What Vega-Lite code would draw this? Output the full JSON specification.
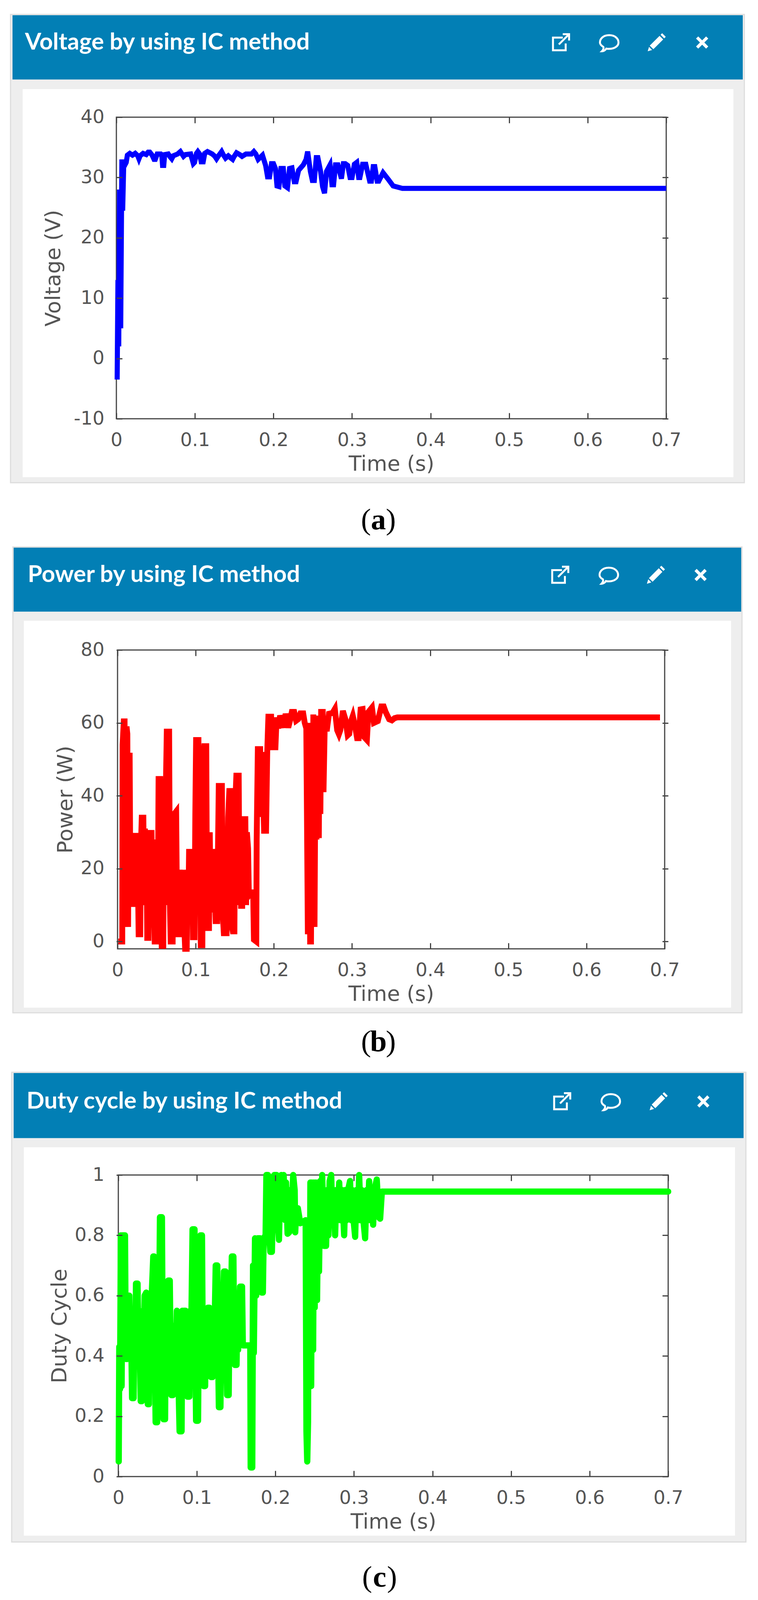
{"$schema":"https://vega.github.io/schema/vega-lite/v6.json","background":"white","padding":{"left":25,"top":35,"right":0,"bottom":0},"spacing":0,
"config":{"view":{"stroke":null},"axis":{"grid":false,"domain":false,"tickSize":-15,"tickWidth":3,"tickColor":"#444444","labelFont":"DejaVu Sans","labelFontSize":48,"labelColor":"#555555","labelPadding":46,"labelOverlap":false,"labelBound":false,"labelFlush":false,"labelExpr":"''+datum.value","titleFont":"DejaVu Sans","titleFontSize":54,"titleFontWeight":"normal","titleColor":"#555555"}},
"datasets":{"one":[{}],
"voltage":[{"t":0.001,"v":-3.5},{"t":0.002,"v":13},{"t":0.003,"v":2},{"t":0.004,"v":28},{"t":0.0055,"v":5},{"t":0.007,"v":33},{"t":0.008,"v":24.5},{"t":0.0095,"v":33},{"t":0.0105,"v":32},{"t":0.0125,"v":32.5},{"t":0.014,"v":33.7},{"t":0.017,"v":34},{"t":0.0205,"v":33.7},{"t":0.024,"v":34},{"t":0.0272,"v":33.6},{"t":0.0287,"v":33.1},{"t":0.0302,"v":33.6},{"t":0.034,"v":34},{"t":0.038,"v":33.8},{"t":0.0405,"v":34.2},{"t":0.0425,"v":34.2},{"t":0.0455,"v":33.7},{"t":0.048,"v":33},{"t":0.0495,"v":33},{"t":0.052,"v":33.9},{"t":0.0565,"v":33.9},{"t":0.0578,"v":33.7},{"t":0.0588,"v":32},{"t":0.0603,"v":32},{"t":0.0615,"v":33.8},{"t":0.066,"v":33.9},{"t":0.068,"v":33.5},{"t":0.0705,"v":33.1},{"t":0.0725,"v":33.6},{"t":0.078,"v":33.9},{"t":0.0815,"v":34.3},{"t":0.0835,"v":33.9},{"t":0.0855,"v":33.5},{"t":0.088,"v":33.8},{"t":0.0945,"v":33.9},{"t":0.0965,"v":33},{"t":0.098,"v":32.3},{"t":0.0995,"v":32.5},{"t":0.102,"v":34},{"t":0.1037,"v":34.3},{"t":0.106,"v":33.9},{"t":0.108,"v":32.6},{"t":0.1105,"v":32.6},{"t":0.1125,"v":34},{"t":0.116,"v":34.3},{"t":0.122,"v":33.9},{"t":0.1255,"v":33.5},{"t":0.1275,"v":33.1},{"t":0.1295,"v":33.5},{"t":0.134,"v":34.3},{"t":0.136,"v":33.8},{"t":0.139,"v":33.2},{"t":0.1425,"v":33.6},{"t":0.146,"v":33.2},{"t":0.148,"v":33},{"t":0.15,"v":33.5},{"t":0.153,"v":34.1},{"t":0.157,"v":33.8},{"t":0.16,"v":33.5},{"t":0.165,"v":33.9},{"t":0.172,"v":33.9},{"t":0.175,"v":34.3},{"t":0.1775,"v":33.9},{"t":0.1805,"v":33},{"t":0.186,"v":33.7},{"t":0.19,"v":32},{"t":0.1925,"v":30.1},{"t":0.195,"v":30.1},{"t":0.1975,"v":32.3},{"t":0.2,"v":32.3},{"t":0.2025,"v":31.5},{"t":0.2045,"v":28.6},{"t":0.207,"v":28.5},{"t":0.2095,"v":31.5},{"t":0.2125,"v":31.5},{"t":0.2145,"v":28.6},{"t":0.2178,"v":28.3},{"t":0.2205,"v":31.5},{"t":0.2235,"v":31.6},{"t":0.2265,"v":29.3},{"t":0.2287,"v":29.3},{"t":0.232,"v":31.2},{"t":0.238,"v":32.1},{"t":0.2415,"v":33},{"t":0.2435,"v":34.3},{"t":0.247,"v":31},{"t":0.2495,"v":29.5},{"t":0.252,"v":29.5},{"t":0.2545,"v":33.3},{"t":0.2565,"v":33.3},{"t":0.26,"v":31},{"t":0.2625,"v":28.5},{"t":0.265,"v":27.4},{"t":0.2675,"v":31},{"t":0.272,"v":32.1},{"t":0.2745,"v":28.8},{"t":0.2765,"v":28.8},{"t":0.279,"v":32.1},{"t":0.282,"v":32.1},{"t":0.2865,"v":29.8},{"t":0.289,"v":32.3},{"t":0.2914,"v":32.3},{"t":0.2945,"v":32},{"t":0.2975,"v":30},{"t":0.3,"v":30},{"t":0.303,"v":32.2},{"t":0.306,"v":32.5},{"t":0.3085,"v":30},{"t":0.31,"v":30},{"t":0.3135,"v":32.2},{"t":0.3175,"v":32.2},{"t":0.3225,"v":29.4},{"t":0.3246,"v":29.4},{"t":0.327,"v":31.8},{"t":0.329,"v":31.8},{"t":0.332,"v":29.4},{"t":0.334,"v":29.4},{"t":0.3395,"v":30.8},{"t":0.3467,"v":29.6},{"t":0.3524,"v":28.6},{"t":0.358,"v":28.4},{"t":0.364,"v":28.2},{"t":0.7,"v":28.2}],
"power":[{"t":0.001,"v":0},{"t":0.006,"v":0},{"t":0.0065,"v":54},{"t":0.008,"v":60.4},{"t":0.009,"v":60.4},{"t":0.0095,"v":9},{"t":0.0105,"v":4},{"t":0.0115,"v":59},{"t":0.0125,"v":57},{"t":0.0135,"v":4},{"t":0.0145,"v":51},{"t":0.0155,"v":51},{"t":0.0165,"v":10},{"t":0.0175,"v":25},{"t":0.0185,"v":9.5},{"t":0.0195,"v":26},{"t":0.0205,"v":9.5},{"t":0.0215,"v":29},{"t":0.0235,"v":29},{"t":0.0245,"v":10},{"t":0.0255,"v":26},{"t":0.027,"v":2},{"t":0.029,"v":2},{"t":0.03,"v":27},{"t":0.031,"v":34},{"t":0.033,"v":34},{"t":0.034,"v":10},{"t":0.035,"v":31},{"t":0.036,"v":10},{"t":0.037,"v":28},{"t":0.038,"v":1},{"t":0.0395,"v":1},{"t":0.0405,"v":28},{"t":0.0415,"v":29.8},{"t":0.0435,"v":29.8},{"t":0.0445,"v":10},{"t":0.0455,"v":28},{"t":0.0465,"v":10},{"t":0.0475,"v":0},{"t":0.0495,"v":0},{"t":0.0505,"v":28},{"t":0.0515,"v":10},{"t":0.0525,"v":44.6},{"t":0.0545,"v":44.6},{"t":0.0555,"v":10},{"t":0.0565,"v":-1.2},{"t":0.0585,"v":-1.2},{"t":0.0595,"v":42},{"t":0.0605,"v":10},{"t":0.0615,"v":38},{"t":0.063,"v":57.6},{"t":0.066,"v":57.6},{"t":0.067,"v":10},{"t":0.068,"v":0},{"t":0.0705,"v":0},{"t":0.0715,"v":24},{"t":0.0725,"v":35},{"t":0.075,"v":35.7},{"t":0.076,"v":10},{"t":0.077,"v":2},{"t":0.0785,"v":2},{"t":0.0795,"v":19.7},{"t":0.081,"v":10},{"t":0.082,"v":19},{"t":0.083,"v":8},{"t":0.084,"v":19.7},{"t":0.085,"v":6},{"t":0.0865,"v":-2},{"t":0.0885,"v":-2},{"t":0.0895,"v":18},{"t":0.0905,"v":8},{"t":0.0915,"v":24.6},{"t":0.0935,"v":24.6},{"t":0.0945,"v":8},{"t":0.0955,"v":24},{"t":0.0965,"v":1.2},{"t":0.0985,"v":1.2},{"t":0.0995,"v":35},{"t":0.1005,"v":55.3},{"t":0.1035,"v":55.3},{"t":0.1045,"v":10},{"t":0.1055,"v":26},{"t":0.1065,"v":-1},{"t":0.1085,"v":-1},{"t":0.1095,"v":50},{"t":0.111,"v":53.6},{"t":0.1135,"v":53.6},{"t":0.1145,"v":8},{"t":0.1155,"v":3.7},{"t":0.117,"v":3.7},{"t":0.118,"v":30},{"t":0.119,"v":8},{"t":0.1205,"v":24.6},{"t":0.122,"v":24.6},{"t":0.123,"v":8},{"t":0.1245,"v":12},{"t":0.1255,"v":5.6},{"t":0.1275,"v":5.6},{"t":0.1285,"v":25},{"t":0.1295,"v":42.7},{"t":0.1335,"v":42.7},{"t":0.1345,"v":8},{"t":0.136,"v":2.3},{"t":0.1395,"v":2.3},{"t":0.1405,"v":20},{"t":0.1415,"v":34},{"t":0.143,"v":41.3},{"t":0.1455,"v":41.3},{"t":0.1465,"v":4},{"t":0.1475,"v":2.8},{"t":0.1495,"v":2.8},{"t":0.1505,"v":37},{"t":0.152,"v":45.5},{"t":0.155,"v":45.5},{"t":0.156,"v":10},{"t":0.157,"v":28},{"t":0.158,"v":9.8},{"t":0.1595,"v":9.8},{"t":0.1605,"v":33.6},{"t":0.1635,"v":33.6},{"t":0.1645,"v":10},{"t":0.1655,"v":30},{"t":0.167,"v":25.5},{"t":0.168,"v":12.7},{"t":0.1705,"v":13.5},{"t":0.1735,"v":13.5},{"t":0.1745,"v":0.5},{"t":0.1775,"v":0},{"t":0.178,"v":28},{"t":0.1795,"v":52.8},{"t":0.1825,"v":52.8},{"t":0.183,"v":34.2},{"t":0.185,"v":52},{"t":0.1875,"v":30.4},{"t":0.19,"v":30.4},{"t":0.1915,"v":52},{"t":0.193,"v":61.7},{"t":0.1965,"v":61.7},{"t":0.198,"v":53.3},{"t":0.202,"v":53.3},{"t":0.2035,"v":61.5},{"t":0.2055,"v":58.5},{"t":0.208,"v":62},{"t":0.2125,"v":58.7},{"t":0.215,"v":62.5},{"t":0.2184,"v":58.7},{"t":0.2205,"v":60.5},{"t":0.223,"v":63},{"t":0.226,"v":63},{"t":0.2285,"v":60.6},{"t":0.2311,"v":61},{"t":0.234,"v":62.6},{"t":0.2375,"v":62.6},{"t":0.2395,"v":60},{"t":0.2415,"v":58.5},{"t":0.2435,"v":2},{"t":0.245,"v":60},{"t":0.2464,"v":0},{"t":0.2475,"v":0},{"t":0.249,"v":58},{"t":0.2495,"v":5},{"t":0.2505,"v":62.3},{"t":0.252,"v":4},{"t":0.2535,"v":62},{"t":0.2545,"v":28},{"t":0.2565,"v":62},{"t":0.2575,"v":28.4},{"t":0.2585,"v":62},{"t":0.2595,"v":35},{"t":0.2605,"v":63},{"t":0.2625,"v":63},{"t":0.2635,"v":41},{"t":0.265,"v":58.4},{"t":0.268,"v":58.4},{"t":0.2705,"v":62.5},{"t":0.275,"v":62.7},{"t":0.278,"v":63.8},{"t":0.281,"v":58},{"t":0.2832,"v":56.9},{"t":0.285,"v":58},{"t":0.2883,"v":63.3},{"t":0.2915,"v":61},{"t":0.2945,"v":56.6},{"t":0.2965,"v":57},{"t":0.298,"v":60},{"t":0.301,"v":61.9},{"t":0.304,"v":59},{"t":0.3065,"v":55.8},{"t":0.3085,"v":55.8},{"t":0.311,"v":63.7},{"t":0.3135,"v":63.8},{"t":0.316,"v":56},{"t":0.319,"v":55.3},{"t":0.321,"v":63},{"t":0.3255,"v":64.2},{"t":0.328,"v":60},{"t":0.333,"v":60.5},{"t":0.3375,"v":64.5},{"t":0.3405,"v":64.5},{"t":0.343,"v":63},{"t":0.3475,"v":61},{"t":0.351,"v":60.7},{"t":0.3545,"v":61.3},{"t":0.358,"v":61.5},{"t":0.694,"v":61.5}],
"duty":[{"t":0.0005,"v":0.05},{"t":0.0012,"v":0.43},{"t":0.0022,"v":0.29},{"t":0.0032,"v":0.8},{"t":0.0042,"v":0.3},{"t":0.0052,"v":0.8},{"t":0.0085,"v":0.8},{"t":0.0095,"v":0.39},{"t":0.0105,"v":0.55},{"t":0.0115,"v":0.39},{"t":0.0125,"v":0.58},{"t":0.014,"v":0.6},{"t":0.015,"v":0.42},{"t":0.016,"v":0.55},{"t":0.0175,"v":0.26},{"t":0.0195,"v":0.26},{"t":0.0205,"v":0.55},{"t":0.0215,"v":0.42},{"t":0.0225,"v":0.64},{"t":0.0245,"v":0.64},{"t":0.0255,"v":0.42},{"t":0.0265,"v":0.55},{"t":0.0285,"v":0.25},{"t":0.03,"v":0.25},{"t":0.031,"v":0.55},{"t":0.032,"v":0.42},{"t":0.0335,"v":0.6},{"t":0.0355,"v":0.61},{"t":0.0365,"v":0.42},{"t":0.0375,"v":0.24},{"t":0.039,"v":0.24},{"t":0.04,"v":0.55},{"t":0.041,"v":0.42},{"t":0.0425,"v":0.6},{"t":0.0445,"v":0.73},{"t":0.0455,"v":0.73},{"t":0.0465,"v":0.42},{"t":0.0475,"v":0.18},{"t":0.0495,"v":0.18},{"t":0.0505,"v":0.55},{"t":0.0515,"v":0.42},{"t":0.053,"v":0.86},{"t":0.0555,"v":0.86},{"t":0.0565,"v":0.42},{"t":0.0575,"v":0.19},{"t":0.0595,"v":0.19},{"t":0.0605,"v":0.55},{"t":0.0615,"v":0.42},{"t":0.0635,"v":0.65},{"t":0.0655,"v":0.65},{"t":0.0665,"v":0.42},{"t":0.0675,"v":0.27},{"t":0.0695,"v":0.27},{"t":0.0705,"v":0.5},{"t":0.0725,"v":0.5},{"t":0.0735,"v":0.42},{"t":0.0745,"v":0.55},{"t":0.078,"v":0.15},{"t":0.0805,"v":0.15},{"t":0.0815,"v":0.55},{"t":0.0825,"v":0.42},{"t":0.0835,"v":0.55},{"t":0.0855,"v":0.55},{"t":0.0865,"v":0.42},{"t":0.088,"v":0.265},{"t":0.0905,"v":0.265},{"t":0.0915,"v":0.55},{"t":0.0925,"v":0.42},{"t":0.0945,"v":0.82},{"t":0.097,"v":0.82},{"t":0.098,"v":0.42},{"t":0.099,"v":0.185},{"t":0.1015,"v":0.185},{"t":0.1025,"v":0.55},{"t":0.1035,"v":0.42},{"t":0.1045,"v":0.8},{"t":0.1065,"v":0.8},{"t":0.1075,"v":0.42},{"t":0.1085,"v":0.3},{"t":0.1105,"v":0.3},{"t":0.1115,"v":0.55},{"t":0.1125,"v":0.42},{"t":0.114,"v":0.56},{"t":0.116,"v":0.56},{"t":0.117,"v":0.42},{"t":0.118,"v":0.33},{"t":0.12,"v":0.33},{"t":0.121,"v":0.55},{"t":0.122,"v":0.42},{"t":0.124,"v":0.7},{"t":0.126,"v":0.7},{"t":0.127,"v":0.42},{"t":0.128,"v":0.23},{"t":0.13,"v":0.23},{"t":0.131,"v":0.55},{"t":0.132,"v":0.42},{"t":0.1345,"v":0.68},{"t":0.1365,"v":0.68},{"t":0.1375,"v":0.42},{"t":0.1385,"v":0.27},{"t":0.1405,"v":0.27},{"t":0.1415,"v":0.55},{"t":0.1425,"v":0.42},{"t":0.1445,"v":0.73},{"t":0.1465,"v":0.73},{"t":0.1475,"v":0.42},{"t":0.1485,"v":0.37},{"t":0.1505,"v":0.37},{"t":0.1515,"v":0.55},{"t":0.1525,"v":0.42},{"t":0.155,"v":0.63},{"t":0.1575,"v":0.63},{"t":0.1585,"v":0.435},{"t":0.168,"v":0.435},{"t":0.1685,"v":0.03},{"t":0.1705,"v":0.03},{"t":0.1715,"v":0.7},{"t":0.1725,"v":0.41},{"t":0.174,"v":0.79},{"t":0.1755,"v":0.6},{"t":0.1775,"v":0.79},{"t":0.1805,"v":0.79},{"t":0.1825,"v":0.61},{"t":0.184,"v":0.61},{"t":0.185,"v":0.79},{"t":0.1875,"v":0.8},{"t":0.1885,"v":1},{"t":0.1905,"v":1},{"t":0.192,"v":0.8},{"t":0.1935,"v":0.745},{"t":0.1955,"v":0.745},{"t":0.197,"v":0.95},{"t":0.1985,"v":1},{"t":0.2015,"v":1},{"t":0.203,"v":0.85},{"t":0.2045,"v":0.785},{"t":0.206,"v":0.95},{"t":0.2075,"v":1},{"t":0.2095,"v":0.95},{"t":0.2105,"v":1},{"t":0.2125,"v":0.85},{"t":0.2135,"v":0.975},{"t":0.2155,"v":0.805},{"t":0.2175,"v":0.81},{"t":0.219,"v":0.95},{"t":0.2205,"v":0.85},{"t":0.2226,"v":1},{"t":0.2245,"v":0.95},{"t":0.2252,"v":0.81},{"t":0.2265,"v":0.89},{"t":0.2285,"v":0.89},{"t":0.2316,"v":0.84},{"t":0.2385,"v":0.85},{"t":0.2395,"v":0.15},{"t":0.2405,"v":0.05},{"t":0.2415,"v":0.18},{"t":0.2425,"v":0.85},{"t":0.2435,"v":0.3},{"t":0.2445,"v":0.975},{"t":0.2455,"v":0.3},{"t":0.2465,"v":0.975},{"t":0.248,"v":0.42},{"t":0.249,"v":0.975},{"t":0.25,"v":0.56},{"t":0.2515,"v":0.975},{"t":0.253,"v":0.585},{"t":0.2545,"v":0.975},{"t":0.2555,"v":0.68},{"t":0.257,"v":0.98},{"t":0.2585,"v":0.765},{"t":0.2595,"v":1},{"t":0.262,"v":0.765},{"t":0.2645,"v":0.765},{"t":0.266,"v":0.95},{"t":0.2675,"v":0.8},{"t":0.269,"v":0.98},{"t":0.271,"v":1},{"t":0.2725,"v":0.85},{"t":0.274,"v":0.95},{"t":0.276,"v":0.8},{"t":0.2775,"v":0.95},{"t":0.279,"v":0.85},{"t":0.2812,"v":0.975},{"t":0.283,"v":0.85},{"t":0.285,"v":0.95},{"t":0.2875,"v":0.8},{"t":0.289,"v":0.95},{"t":0.2905,"v":0.85},{"t":0.2925,"v":0.95},{"t":0.295,"v":0.98},{"t":0.2965,"v":0.85},{"t":0.298,"v":0.95},{"t":0.2995,"v":0.85},{"t":0.3015,"v":0.795},{"t":0.303,"v":0.95},{"t":0.305,"v":0.85},{"t":0.3066,"v":1},{"t":0.3085,"v":0.85},{"t":0.31,"v":0.95},{"t":0.312,"v":0.85},{"t":0.3142,"v":0.79},{"t":0.316,"v":0.95},{"t":0.3175,"v":0.85},{"t":0.3193,"v":0.98},{"t":0.321,"v":0.85},{"t":0.3225,"v":0.95},{"t":0.3244,"v":0.835},{"t":0.326,"v":0.95},{"t":0.329,"v":0.985},{"t":0.3315,"v":0.86},{"t":0.3333,"v":0.855},{"t":0.3355,"v":0.945},{"t":0.3384,"v":0.945},{"t":0.7,"v":0.945}]},
"vconcat":[
{"width":1413,"height":772,"layer":[
{"data":{"name":"one"},"mark":{"type":"rect","fill":"white"},"encoding":{"x":{"datum":-0.13473,"type":"quantitative","axis":null},"x2":{"datum":0.79943},"y":{"datum":57.03,"type":"quantitative","axis":null},"y2":{"datum":-31.08}}},
{"data":{"name":"one"},"mark":{"type":"rect","fill":"#eeeeee","stroke":"#dddddd","strokeWidth":3},"encoding":{"x":{"datum":-0.13473,"type":"quantitative","axis":null},"x2":{"datum":0.79943},"y":{"datum":57.03,"type":"quantitative","axis":null},"y2":{"datum":-20.6}}},
{"data":{"name":"one"},"mark":{"type":"rect","fill":"#027fb5"},"encoding":{"x":{"datum":-0.13224,"type":"quantitative","axis":null},"x2":{"datum":0.79744},"y":{"datum":56.91,"type":"quantitative","axis":null},"y2":{"datum":46.25}}},
{"data":{"name":"one"},"mark":{"type":"rect","fill":"white"},"encoding":{"x":{"datum":-0.11932,"type":"quantitative","axis":null},"x2":{"datum":0.78551},"y":{"datum":44.66,"type":"quantitative","axis":null},"y2":{"datum":-19.68}}},
{"data":{"name":"one"},"mark":{"type":"text","text":"Voltage by using IC method","align":"left","baseline":"middle","font":"Lato","fontWeight":"bold","fontSize":60,"color":"white"},"encoding":{"x":{"datum":-0.11634,"type":"quantitative","axis":null},"y":{"datum":52.38,"type":"quantitative","axis":null}}},
{"data":{"name":"one"},"mark":{"type":"point","shape":"M0.2,-0.5 H-0.8 V0.8 H0.5 V0.1 M-0.2,0.2 L0.85,-0.85 M0.2,-0.85 H0.85 V-0.2","filled":false,"stroke":"white","strokeWidth":5,"size":2500,"opacity":1},"encoding":{"x":{"datum":0.56577,"type":"quantitative","axis":null},"y":{"datum":52.38,"type":"quantitative","axis":null}}},
{"data":{"name":"one"},"mark":{"type":"point","shape":"M0,-0.75 C0.6,-0.75 0.95,-0.4 0.95,0 C0.95,0.4 0.5,0.65 0,0.65 C-0.1,0.65 -0.2,0.65 -0.3,0.62 C-0.4,0.8 -0.6,0.9 -0.75,0.9 C-0.6,0.75 -0.55,0.6 -0.6,0.45 C-0.85,0.3 -0.95,0.15 -0.95,0 C-0.95,-0.4 -0.6,-0.75 0,-0.75 Z","filled":false,"stroke":"white","strokeWidth":5,"size":2500,"opacity":1},"encoding":{"x":{"datum":0.62742,"type":"quantitative","axis":null},"y":{"datum":52.38,"type":"quantitative","axis":null}}},
{"data":{"name":"one"},"mark":{"type":"point","shape":"M0.55,-0.9 L0.9,-0.55 L0.75,-0.4 L0.4,-0.75 Z M0.3,-0.65 L0.65,-0.3 L-0.3,0.65 L-0.65,0.3 Z M-0.72,0.42 L-0.42,0.72 L-0.85,0.85 Z","filled":true,"fill":"white","stroke":null,"size":2800,"opacity":1},"encoding":{"x":{"datum":0.68757,"type":"quantitative","axis":null},"y":{"datum":52.38,"type":"quantitative","axis":null}}},
{"data":{"name":"one"},"mark":{"type":"point","shape":"M-0.7,-0.45 L-0.45,-0.7 L0,-0.25 L0.45,-0.7 L0.7,-0.45 L0.25,0 L0.7,0.45 L0.45,0.7 L0,0.25 L-0.45,0.7 L-0.7,0.45 L-0.25,0 Z","filled":true,"fill":"white","stroke":null,"size":2000,"opacity":1},"encoding":{"x":{"datum":0.74574,"type":"quantitative","axis":null},"y":{"datum":52.38,"type":"quantitative","axis":null}}},
{"data":{"name":"one"},"mark":{"type":"text","text":"(","align":"right","baseline":"middle","font":"Liberation Serif","fontSize":77,"color":"black"},"encoding":{"x":{"datum":0.3241,"type":"quantitative","axis":null},"y":{"datum":-26.85,"type":"quantitative","axis":null}}},
{"data":{"name":"one"},"mark":{"type":"text","text":"a","align":"center","baseline":"middle","font":"Liberation Serif","fontWeight":"bold","fontSize":77,"color":"black"},"encoding":{"x":{"datum":0.33359,"type":"quantitative","axis":null},"y":{"datum":-26.85,"type":"quantitative","axis":null}}},
{"data":{"name":"one"},"mark":{"type":"text","text":")","align":"left","baseline":"middle","font":"Liberation Serif","fontSize":77,"color":"black"},"encoding":{"x":{"datum":0.343,"type":"quantitative","axis":null},"y":{"datum":-26.85,"type":"quantitative","axis":null}}},
{"data":{"name":"one"},"mark":{"type":"rect","fill":null,"stroke":"#444444","strokeWidth":3},"encoding":{"x":{"datum":0,"type":"quantitative","axis":{"orient":"top","zindex":1,"labels":false,"title":null,"values":[0,0.1,0.2,0.3,0.4,0.5,0.6,0.7]}},"x2":{"datum":0.7},"y":{"datum":-10,"type":"quantitative","axis":{"orient":"right","zindex":1,"labels":false,"title":null,"values":[-10,0,10,20,30,40]}},"y2":{"datum":40}}},
{"data":{"name":"voltage"},"mark":{"type":"line","color":"#0000ff","strokeWidth":13,"strokeCap":"butt","interpolate":"linear"},"encoding":{"x":{"field":"t","type":"quantitative","title":"Time (s)","scale":{"domain":[0,0.7],"range":[0,1408],"nice":false},"axis":{"orient":"bottom","zindex":1,"values":[0,0.1,0.2,0.3,0.4,0.5,0.6,0.7],"titlePadding":10}},"y":{"field":"v","type":"quantitative","title":"Voltage (V)","scale":{"domain":[-10,40],"nice":false},"axis":{"orient":"left","zindex":1,"values":[-10,0,10,20,30,40],"titlePadding":24}}}}
]},
{"width":1413,"height":765,"layer":[
{"data":{"name":"one"},"mark":{"type":"rect","fill":"white"},"encoding":{"x":{"datum":-0.1339,"type":"quantitative","axis":null},"x2":{"datum":0.79892},"y":{"datum":108.28,"type":"quantitative","axis":null},"y2":{"datum":-35.65}}},
{"data":{"name":"one"},"mark":{"type":"rect","fill":"#eeeeee","stroke":"#dddddd","strokeWidth":3},"encoding":{"x":{"datum":-0.1339,"type":"quantitative","axis":null},"x2":{"datum":0.79892},"y":{"datum":108.28,"type":"quantitative","axis":null},"y2":{"datum":-19.54}}},
{"data":{"name":"one"},"mark":{"type":"rect","fill":"#027fb5"},"encoding":{"x":{"datum":-0.1329,"type":"quantitative","axis":null},"x2":{"datum":0.79792},"y":{"datum":108.08,"type":"quantitative","axis":null},"y2":{"datum":90.54}}},
{"data":{"name":"one"},"mark":{"type":"rect","fill":"white"},"encoding":{"x":{"datum":-0.11991,"type":"quantitative","axis":null},"x2":{"datum":0.78493},"y":{"datum":88.01,"type":"quantitative","axis":null},"y2":{"datum":-18.12}}},
{"data":{"name":"one"},"mark":{"type":"text","text":"Power by using IC method","align":"left","baseline":"middle","font":"Lato","fontWeight":"bold","fontSize":60,"color":"white"},"encoding":{"x":{"datum":-0.11491,"type":"quantitative","axis":null},"y":{"datum":100.58,"type":"quantitative","axis":null}}},
{"data":{"name":"one"},"mark":{"type":"point","shape":"M0.2,-0.5 H-0.8 V0.8 H0.5 V0.1 M-0.2,0.2 L0.85,-0.85 M0.2,-0.85 H0.85 V-0.2","filled":false,"stroke":"white","strokeWidth":5,"size":2500,"opacity":1},"encoding":{"x":{"datum":0.56609,"type":"quantitative","axis":null},"y":{"datum":100.58,"type":"quantitative","axis":null}}},
{"data":{"name":"one"},"mark":{"type":"point","shape":"M0,-0.75 C0.6,-0.75 0.95,-0.4 0.95,0 C0.95,0.4 0.5,0.65 0,0.65 C-0.1,0.65 -0.2,0.65 -0.3,0.62 C-0.4,0.8 -0.6,0.9 -0.75,0.9 C-0.6,0.75 -0.55,0.6 -0.6,0.45 C-0.85,0.3 -0.95,0.15 -0.95,0 C-0.95,-0.4 -0.6,-0.75 0,-0.75 Z","filled":false,"stroke":"white","strokeWidth":5,"size":2500,"opacity":1},"encoding":{"x":{"datum":0.62855,"type":"quantitative","axis":null},"y":{"datum":100.58,"type":"quantitative","axis":null}}},
{"data":{"name":"one"},"mark":{"type":"point","shape":"M0.55,-0.9 L0.9,-0.55 L0.75,-0.4 L0.4,-0.75 Z M0.3,-0.65 L0.65,-0.3 L-0.3,0.65 L-0.65,0.3 Z M-0.72,0.42 L-0.42,0.72 L-0.85,0.85 Z","filled":true,"fill":"white","stroke":null,"size":2800,"opacity":1},"encoding":{"x":{"datum":0.6885,"type":"quantitative","axis":null},"y":{"datum":100.58,"type":"quantitative","axis":null}}},
{"data":{"name":"one"},"mark":{"type":"point","shape":"M-0.7,-0.45 L-0.45,-0.7 L0,-0.25 L0.45,-0.7 L0.7,-0.45 L0.25,0 L0.7,0.45 L0.45,0.7 L0,0.25 L-0.45,0.7 L-0.7,0.45 L-0.25,0 Z","filled":true,"fill":"white","stroke":null,"size":2000,"opacity":1},"encoding":{"x":{"datum":0.74596,"type":"quantitative","axis":null},"y":{"datum":100.58,"type":"quantitative","axis":null}}},
{"data":{"name":"one"},"mark":{"type":"text","text":"(","align":"right","baseline":"middle","font":"Liberation Serif","fontSize":77,"color":"black"},"encoding":{"x":{"datum":0.3243,"type":"quantitative","axis":null},"y":{"datum":-27.64,"type":"quantitative","axis":null}}},
{"data":{"name":"one"},"mark":{"type":"text","text":"b","align":"center","baseline":"middle","font":"Liberation Serif","fontWeight":"bold","fontSize":77,"color":"black"},"encoding":{"x":{"datum":0.33376,"type":"quantitative","axis":null},"y":{"datum":-27.64,"type":"quantitative","axis":null}}},
{"data":{"name":"one"},"mark":{"type":"text","text":")","align":"left","baseline":"middle","font":"Liberation Serif","fontSize":77,"color":"black"},"encoding":{"x":{"datum":0.3433,"type":"quantitative","axis":null},"y":{"datum":-27.64,"type":"quantitative","axis":null}}},
{"data":{"name":"one"},"mark":{"type":"rect","fill":null,"stroke":"#444444","strokeWidth":3},"encoding":{"x":{"datum":0,"type":"quantitative","axis":{"orient":"top","zindex":1,"labels":false,"title":null,"values":[0,0.1,0.2,0.3,0.4,0.5,0.6,0.7]}},"x2":{"datum":0.7},"y":{"datum":-2,"type":"quantitative","axis":{"orient":"right","zindex":1,"labels":false,"title":null,"values":[0,20,40,60,80]}},"y2":{"datum":80}}},
{"data":{"name":"power"},"mark":{"type":"line","color":"#ff0000","strokeWidth":15,"strokeCap":"butt","interpolate":"linear"},"encoding":{"x":{"field":"t","type":"quantitative","title":"Time (s)","scale":{"domain":[0,0.7],"range":[3,1404],"nice":false},"axis":{"orient":"bottom","zindex":1,"values":[0,0.1,0.2,0.3,0.4,0.5,0.6,0.7],"titlePadding":10}},"y":{"field":"v","type":"quantitative","title":"Power (W)","scale":{"domain":[-2,80],"nice":false},"axis":{"orient":"left","zindex":1,"values":[0,20,40,60,80],"titlePadding":10}}}}
]},
{"width":1413,"height":772,"layer":[
{"data":{"name":"one"},"mark":{"type":"rect","fill":"white"},"encoding":{"x":{"datum":-0.13572,"type":"quantitative","axis":null},"x2":{"datum":0.79894},"y":{"datum":1.34069,"type":"quantitative","axis":null},"y2":{"datum":-0.42034}}},
{"data":{"name":"one"},"mark":{"type":"rect","fill":"#eeeeee","stroke":"#dddddd","strokeWidth":3},"encoding":{"x":{"datum":-0.13572,"type":"quantitative","axis":null},"x2":{"datum":0.79894},"y":{"datum":1.34069,"type":"quantitative","axis":null},"y2":{"datum":-0.21691}}},
{"data":{"name":"one"},"mark":{"type":"rect","fill":"#027fb5"},"encoding":{"x":{"datum":-0.13324,"type":"quantitative","axis":null},"x2":{"datum":0.79596},"y":{"datum":1.33824,"type":"quantitative","axis":null},"y2":{"datum":1.12255}}},
{"data":{"name":"one"},"mark":{"type":"rect","fill":"white"},"encoding":{"x":{"datum":-0.12031,"type":"quantitative","axis":null},"x2":{"datum":0.78502},"y":{"datum":1.09191,"type":"quantitative","axis":null},"y2":{"datum":-0.19608}}},
{"data":{"name":"one"},"mark":{"type":"text","text":"Duty cycle by using IC method","align":"left","baseline":"middle","font":"Lato","fontWeight":"bold","fontSize":60,"color":"white"},"encoding":{"x":{"datum":-0.11683,"type":"quantitative","axis":null},"y":{"datum":1.24387,"type":"quantitative","axis":null}}},
{"data":{"name":"one"},"mark":{"type":"point","shape":"M0.2,-0.5 H-0.8 V0.8 H0.5 V0.1 M-0.2,0.2 L0.85,-0.85 M0.2,-0.85 H0.85 V-0.2","filled":false,"stroke":"white","strokeWidth":5,"size":2500,"opacity":1},"encoding":{"x":{"datum":0.56477,"type":"quantitative","axis":null},"y":{"datum":1.24387,"type":"quantitative","axis":null}}},
{"data":{"name":"one"},"mark":{"type":"point","shape":"M0,-0.75 C0.6,-0.75 0.95,-0.4 0.95,0 C0.95,0.4 0.5,0.65 0,0.65 C-0.1,0.65 -0.2,0.65 -0.3,0.62 C-0.4,0.8 -0.6,0.9 -0.75,0.9 C-0.6,0.75 -0.55,0.6 -0.6,0.45 C-0.85,0.3 -0.95,0.15 -0.95,0 C-0.95,-0.4 -0.6,-0.75 0,-0.75 Z","filled":false,"stroke":"white","strokeWidth":5,"size":2500,"opacity":1},"encoding":{"x":{"datum":0.62692,"type":"quantitative","axis":null},"y":{"datum":1.24387,"type":"quantitative","axis":null}}},
{"data":{"name":"one"},"mark":{"type":"point","shape":"M0.55,-0.9 L0.9,-0.55 L0.75,-0.4 L0.4,-0.75 Z M0.3,-0.65 L0.65,-0.3 L-0.3,0.65 L-0.65,0.3 Z M-0.72,0.42 L-0.42,0.72 L-0.85,0.85 Z","filled":true,"fill":"white","stroke":null,"size":2800,"opacity":1},"encoding":{"x":{"datum":0.68757,"type":"quantitative","axis":null},"y":{"datum":1.24387,"type":"quantitative","axis":null}}},
{"data":{"name":"one"},"mark":{"type":"point","shape":"M-0.7,-0.45 L-0.45,-0.7 L0,-0.25 L0.45,-0.7 L0.7,-0.45 L0.25,0 L0.7,0.45 L0.45,0.7 L0,0.25 L-0.45,0.7 L-0.7,0.45 L-0.25,0 Z","filled":true,"fill":"white","stroke":null,"size":2000,"opacity":1},"encoding":{"x":{"datum":0.74475,"type":"quantitative","axis":null},"y":{"datum":1.24387,"type":"quantitative","axis":null}}},
{"data":{"name":"one"},"mark":{"type":"text","text":"(","align":"right","baseline":"middle","font":"Liberation Serif","fontSize":77,"color":"black"},"encoding":{"x":{"datum":0.3231,"type":"quantitative","axis":null},"y":{"datum":-0.33578,"type":"quantitative","axis":null}}},
{"data":{"name":"one"},"mark":{"type":"text","text":"c","align":"center","baseline":"middle","font":"Liberation Serif","fontWeight":"bold","fontSize":77,"color":"black"},"encoding":{"x":{"datum":0.3326,"type":"quantitative","axis":null},"y":{"datum":-0.33578,"type":"quantitative","axis":null}}},
{"data":{"name":"one"},"mark":{"type":"text","text":")","align":"left","baseline":"middle","font":"Liberation Serif","fontSize":77,"color":"black"},"encoding":{"x":{"datum":0.3421,"type":"quantitative","axis":null},"y":{"datum":-0.33578,"type":"quantitative","axis":null}}},
{"data":{"name":"one"},"mark":{"type":"rect","fill":null,"stroke":"#444444","strokeWidth":3},"encoding":{"x":{"datum":0,"type":"quantitative","axis":{"orient":"top","zindex":1,"labels":false,"title":null,"values":[0,0.1,0.2,0.3,0.4,0.5,0.6,0.7]}},"x2":{"datum":0.7},"y":{"datum":0,"type":"quantitative","axis":{"orient":"right","zindex":1,"labels":false,"title":null,"values":[0,0.2,0.4,0.6,0.8,1]}},"y2":{"datum":1}}},
{"data":{"name":"duty"},"mark":{"type":"line","color":"#00ff00","strokeWidth":16,"strokeCap":"round","strokeJoin":"round","interpolate":"linear"},"encoding":{"x":{"field":"t","type":"quantitative","title":"Time (s)","scale":{"domain":[0,0.7],"range":[5,1413],"nice":false},"axis":{"orient":"bottom","zindex":1,"values":[0,0.1,0.2,0.3,0.4,0.5,0.6,0.7],"titlePadding":10}},"y":{"field":"v","type":"quantitative","title":"Duty Cycle","scale":{"domain":[0,1],"nice":false},"axis":{"orient":"left","zindex":1,"values":[0,0.2,0.4,0.6,0.8,1],"titlePadding":10}}}}
]}
]}
